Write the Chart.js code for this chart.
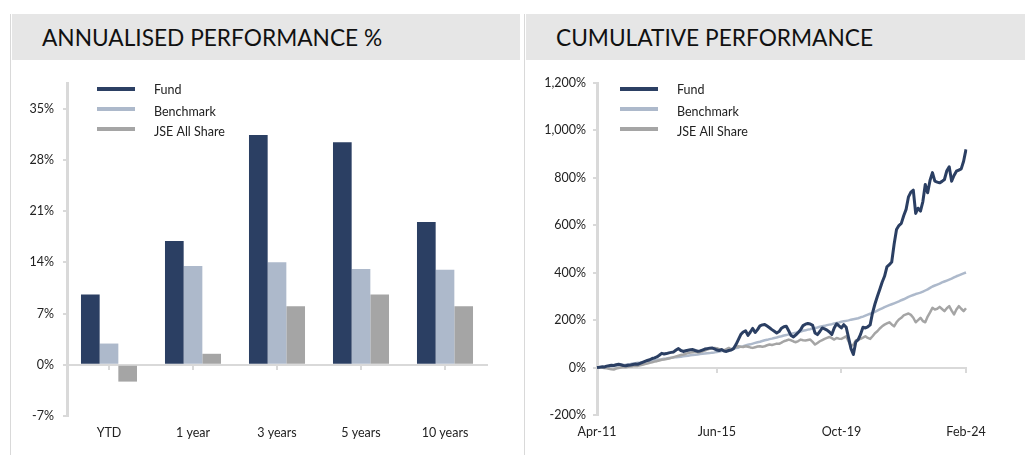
<!DOCTYPE html>
<html>
<head>
<meta charset="utf-8">
<script src="https://cdn.jsdelivr.net/npm/chart.js@4.4.1/dist/chart.umd.min.js"></script>
<style>
  body { margin: 0; background: #fff; width: 1025px; height: 459px; position: relative; overflow: hidden; font-family: Lato, sans-serif; }
  .panel-line { position: absolute; top: 14px; width: 1px; height: 441px; background: #d9d9d9; }
  .title { position: absolute; top: 14px; height: 46px; background: #e6e6e6; font-size: 22.7px; line-height: 47px; color: #111; padding-left: 30px; box-sizing: border-box; }
  .box { position: absolute; top: 60px; height: 399px; }
</style>
</head>
<body>
<div class="panel-line" style="left:10px"></div>
<div class="panel-line" style="left:524px"></div>
<div class="title" style="left:12px;width:508px">ANNUALISED PERFORMANCE %</div>
<div class="title" style="left:526px;width:499px">CUMULATIVE PERFORMANCE</div>
<div class="box" style="left:12px;width:508px"><canvas id="barChart"></canvas></div>
<div class="box" style="left:526px;width:499px"><canvas id="lineChart"></canvas></div>
<script>
// --- data ---
const seriesNames = ['Fund', 'Benchmark', 'JSE All Share'];
const colors = ['#2b3f63', '#adb9cb', '#a5a5a5'];

const periods = ['YTD', '1 year', '3 years', '5 years', '10 years'];
const fundAnn = [9.6, 16.9, 31.4, 30.4, 19.5];
const benchAnn = [2.9, 13.5, 14.0, 13.1, 13.0];
const jseAnn = [-2.3, 1.5, 8.0, 9.6, 8.0];
const annTicks = [-7, 0, 7, 14, 21, 28, 35];

// monthly, Apr-11 .. Feb-24
const monthNames = ['Jan','Feb','Mar','Apr','May','Jun','Jul','Aug','Sep','Oct','Nov','Dec'];
const months = [];
for (let y = 2011; y <= 2024; y++) {
    for (let m = 0; m < 12; m++) {
        if (y === 2011 && m < 3) continue;
        if (y === 2024 && m > 1) break;
        months.push(monthNames[m] + '-' + String(y).slice(2));
    }
}
const cumLabelMonths = ['Apr-11', 'Jun-15', 'Oct-19', 'Feb-24'];
const cumTicks = [-200, 0, 200, 400, 600, 800, 1000, 1200];

const fundCum = [
    0, 1, 3, 2, 6, 8, 10, 9, 12, 14, 12, 9, 8, 10, 11, 13, 15, 14, 18, 22,
    26, 30, 33, 38, 41, 45, 52, 60, 57, 59, 62, 64, 66, 74, 80, 72, 68, 71, 73, 75,
    76, 72, 69, 70, 74, 78, 80, 82, 83, 79, 74, 72, 76, 70, 68, 72, 74, 80, 97, 118,
    139, 150, 155, 136, 150, 165, 148, 160, 176, 180, 182, 175, 168, 160, 153, 146, 152, 166, 172, 174,
    155, 135, 129, 138, 148, 160, 177, 183, 186, 184, 178, 146, 139, 152, 167, 163, 158, 150, 139, 167,
    185, 176, 167, 181, 170, 125, 80, 55, 108, 118, 140, 170, 167, 172, 180, 231, 268, 300, 329, 360,
    385, 425, 434, 445, 520, 582, 599, 608, 640, 667, 720, 740, 748, 650, 672, 660, 700, 772, 737, 790,
    822, 786, 782, 779, 785, 793, 830, 847, 786, 810, 828, 833, 838, 870, 920
];
const benchCum = [
    0, 1, 2, 3, 4, 5, 6, 7, 8, 9, 10, 11, 12, 14, 15, 17, 18, 20, 21, 23,
    25, 26, 28, 29, 31, 32, 34, 35, 37, 38, 40, 41, 42, 44, 45, 46, 48, 49, 50, 52,
    53, 54, 55, 57, 58, 59, 60, 61, 63, 64, 66, 68, 70, 72, 74, 76, 78, 80, 82, 84,
    88, 90, 93, 96, 98, 101, 104, 107, 109, 112, 115, 117, 120, 122, 125, 127, 130, 132, 135, 137,
    140, 142, 145, 147, 150, 152, 155, 157, 160, 162, 165, 167, 169, 172, 174, 176, 179, 181, 183, 186,
    188, 190, 193, 195, 197, 199, 202, 204, 206, 208, 212, 215, 219, 223, 227, 230, 235, 240, 245, 250,
    255, 259, 263, 267, 271, 275, 279, 284, 288, 293, 298, 302, 306, 310, 313, 316, 320, 325, 330, 336,
    342, 346, 350, 354, 359, 363, 367, 371, 375, 380, 385, 389, 393, 397, 401
];
const jseCum = [
    0, 1, 0, -2, -3, -5, -7, -8, -4, -2, 0, 2, 1, 3, 5, 6, 8, 7, 10, 12,
    15, 17, 20, 22, 25, 27, 30, 33, 34, 36, 38, 41, 44, 47, 50, 53, 55, 58, 61, 63,
    65, 67, 64, 65, 68, 72, 76, 79, 80, 83, 82, 78, 75, 73, 78, 83, 76, 80, 86, 90,
    88, 87, 90, 88, 85, 83, 86, 89, 90, 88, 90, 94, 97, 95, 98, 101, 100, 105, 111, 114,
    118, 115, 110, 107, 112, 118, 115, 114, 116, 118, 108, 97, 104, 111, 116, 121, 125, 129, 124, 118,
    125, 122, 121, 126, 132, 110, 90, 97, 114, 118, 121, 126, 132, 125, 121, 132, 145, 153, 165, 174,
    181, 186, 191, 182, 174, 191, 203, 210, 220, 224, 228, 222, 210, 191, 200, 210, 196, 191, 215, 233,
    252, 245, 248, 256, 247, 238, 250, 259, 240, 224, 245, 259, 248, 238, 250
];

Chart.defaults.font.family = 'Lato, sans-serif';
Chart.defaults.font.size = 12.5;
Chart.defaults.color = '#222';
const axisGrey = '#d9d9d9';

// the big tick padding pushes labels down; keep it out of the side padding
const noSidePadding = (scale) => { scale.paddingLeft = 0; scale.paddingRight = 0; };

// vertical legend with line samples, placed inside the plot area
const lineLegend = {
    id: 'lineLegend',
    afterDraw(chart, args, opts) {
        const ctx = chart.ctx;
        const a = chart.chartArea;
        ctx.save();
        ctx.font = '12.5px Lato, sans-serif';
        ctx.textBaseline = 'middle';
        seriesNames.forEach((name, i) => {
            const y = a.top + opts.top + i * 20;
            const x = a.left + opts.left;
            ctx.strokeStyle = colors[i];
            ctx.lineWidth = 4;
            ctx.beginPath();
            ctx.moveTo(x, y);
            ctx.lineTo(x + 38, y);
            ctx.stroke();
            ctx.fillStyle = '#222';
            ctx.fillText(name, x + 57, y + (i === 0 ? 1 : 3));
        });
        ctx.restore();
    }
};

new Chart(document.getElementById('barChart'), {
    type: 'bar',
    data: {
        labels: periods,
        datasets: [
            { label: seriesNames[0], data: fundAnn, backgroundColor: colors[0] },
            { label: seriesNames[1], data: benchAnn, backgroundColor: colors[1] },
            { label: seriesNames[2], data: jseAnn, backgroundColor: colors[2] }
        ]
    },
    options: {
        responsive: true,
        maintainAspectRatio: false,
        animation: false,
        layout: { padding: { top: 23, right: 33, bottom: 43, left: 0 } },
        categoryPercentage: 0.667,
        barPercentage: 1,
        plugins: {
            legend: { display: false },
            tooltip: { enabled: false },
            lineLegend: { top: 6, left: 30 }
        },
        scales: {
            x: {
                position: { y: 0 },
                afterFit: noSidePadding,
                grid: { offset: false, drawOnChartArea: false, tickLength: 4, color: axisGrey, lineWidth: 2 },
                border: { color: axisGrey, width: 2 },
                ticks: { padding: 57 }
            },
            y: {
                min: -7,
                max: 38.5,
                afterBuildTicks: (scale) => { scale.ticks = annTicks.map(v => ({ value: v })); },
                afterFit: (scale) => { scale.width = 55; },
                grid: { drawOnChartArea: false, tickLength: 4, color: axisGrey, lineWidth: 2 },
                border: { color: axisGrey, width: 3 },
                ticks: { padding: 9, callback: (v) => v + '%' }
            }
        }
    },
    plugins: [lineLegend]
});

new Chart(document.getElementById('lineChart'), {
    type: 'line',
    data: {
        labels: months,
        datasets: [
            { label: seriesNames[0], data: fundCum, borderColor: colors[0], borderWidth: 3, order: 0 },
            { label: seriesNames[1], data: benchCum, borderColor: colors[1], borderWidth: 2.5, order: 2 },
            { label: seriesNames[2], data: jseCum, borderColor: colors[2], borderWidth: 2.5, order: 1 }
        ]
    },
    options: {
        responsive: true,
        maintainAspectRatio: false,
        animation: false,
        layout: { padding: { top: 23, right: 59, bottom: 44, left: 0 } },
        elements: { point: { radius: 0 }, line: { tension: 0, borderJoinStyle: 'round' } },
        plugins: {
            legend: { display: false },
            tooltip: { enabled: false },
            lineLegend: { top: 6, left: 23 }
        },
        scales: {
            x: {
                position: { y: 0 },
                afterBuildTicks: (scale) => {
                    scale.ticks = scale.ticks.filter(t => cumLabelMonths.includes(months[t.value]));
                },
                afterFit: noSidePadding,
                grid: { drawOnChartArea: false, tickLength: 4, color: axisGrey, lineWidth: 2 },
                border: { color: axisGrey, width: 2 },
                ticks: { autoSkip: false, maxRotation: 0, padding: 53 }
            },
            y: {
                min: -200,
                max: 1200,
                afterBuildTicks: (scale) => { scale.ticks = cumTicks.map(v => ({ value: v })); },
                afterFit: (scale) => { scale.width = 71; },
                grid: { drawOnChartArea: false, tickLength: 4, color: axisGrey, lineWidth: 2 },
                border: { color: axisGrey, width: 3 },
                ticks: { padding: 7, callback: (v) => v.toLocaleString('en-US') + '%' }
            }
        }
    },
    plugins: [lineLegend]
});
</script>
</body>
</html>
